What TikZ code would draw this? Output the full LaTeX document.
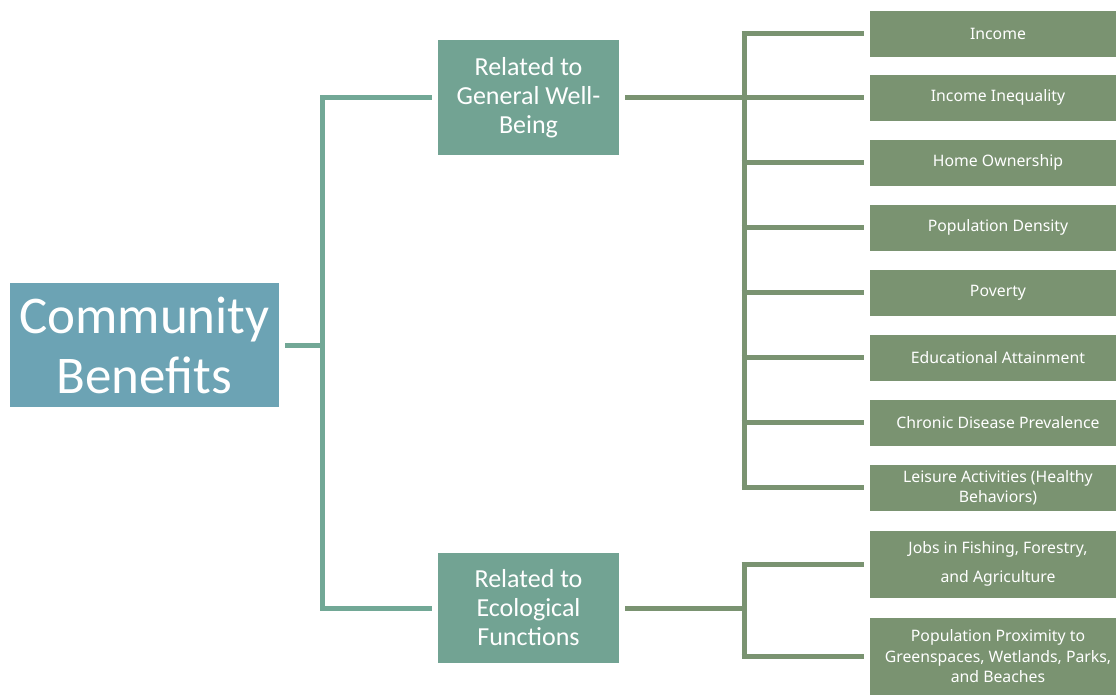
\documentclass[tikz,border=0pt]{standalone}
\usepackage{fontspec}
\setmainfont{Carlito}
\newfontfamily\leaffont{Noto Sans}
\usetikzlibrary{calc}

\definecolor{rootblue}{HTML}{6CA3B4}
\definecolor{midgreen}{HTML}{72A393}
\definecolor{leafgreen}{HTML}{7A9371}
\definecolor{trunkgreen}{HTML}{72A896}

\tikzset{
  rootbox/.style={fill=rootblue, text=white, align=center, inner sep=0pt,
    minimum width=269pt, minimum height=124pt,
    font=\fontsize{53}{60}\selectfont},
  midbox/.style={fill=midgreen, text=white, align=center, inner sep=0pt,
    minimum width=181pt, font=\fontsize{26}{29}\selectfont},
  leafbox/.style={fill=leafgreen, text=white, align=center, inner sep=0pt,
    minimum width=256pt, minimum height=46pt,
    font=\leaffont\fontsize{15.8}{20.5}\selectfont},
  trunk/.style={trunkgreen, line width=5pt},
  twig/.style={leafgreen, line width=5pt}
}

\begin{document}
\begin{tikzpicture}[x=1pt,y=-1pt]
  \useasboundingbox (0,0) rectangle (1116,694);

  % root and the two groups
  \node[rootbox] (cb) at (144.5,345) {Community\\Benefits};
  \node[midbox, minimum height=115pt] (gwb) at (528.5,97.5) {Related to\\General Well-\\Being};
  \node[midbox, minimum height=110pt] (eco) at (528.5,608) {Related to\\Ecological\\Functions};

  % leaves of the first group
  \node[leafbox] (inc) at (998,33.5) {Income};
  \node[leafbox] (ineq) at (998,97.5) {Income Inequality};
  \node[leafbox] (home) at (998,162.5) {Home Ownership};
  \node[leafbox] (dens) at (998,227.5) {Population Density};
  \node[leafbox] (pov) at (998,292.5) {Poverty};
  \node[leafbox] (edu) at (998,357.5) {Educational Attainment};
  \node[leafbox] (chron) at (998,422.5) {Chronic Disease Prevalence};
  \node[leafbox] (leis) at (998,487.5) {Leisure Activities (Healthy\\Behaviors)};

  % leaves of the second group
  \node[leafbox, minimum height=67pt] (jobs) at (998,564) {Jobs in Fishing, Forestry,\\[8pt]and Agriculture};
  \node[leafbox, minimum height=77pt] (prox) at (998,656.5) {Population Proximity to\\Greenspaces, Wetlands, Parks,\\and Beaches};

  % root connectors
  \draw[trunk] ([xshift=6pt]cb.east) -- ([xshift=43pt]cb.east);
  \draw[trunk] ([xshift=-6pt]gwb.west) -| ([xshift=43pt]cb.east) |- ([xshift=-6pt]eco.west);

  % first group connectors
  \coordinate (s1) at (744,97.5);
  \draw[twig] ([xshift=6pt]gwb.east) -- (s1);
  \draw[twig] (s1 |- inc) -- (s1 |- leis);
  \foreach \leaf in {inc,ineq,home,dens,pov,edu,chron,leis}
    \draw[twig] ([xshift=-2.5pt]s1 |- \leaf) -- ([xshift=-6pt]\leaf.west);

  % second group connectors
  \coordinate (s2) at (744,608);
  \draw[twig] ([xshift=6pt]eco.east) -- (s2);
  \draw[twig] (s2 |- jobs) -- (s2 |- prox);
  \foreach \leaf in {jobs,prox}
    \draw[twig] ([xshift=-2.5pt]s2 |- \leaf) -- ([xshift=-6pt]\leaf.west);
\end{tikzpicture}
\end{document}
